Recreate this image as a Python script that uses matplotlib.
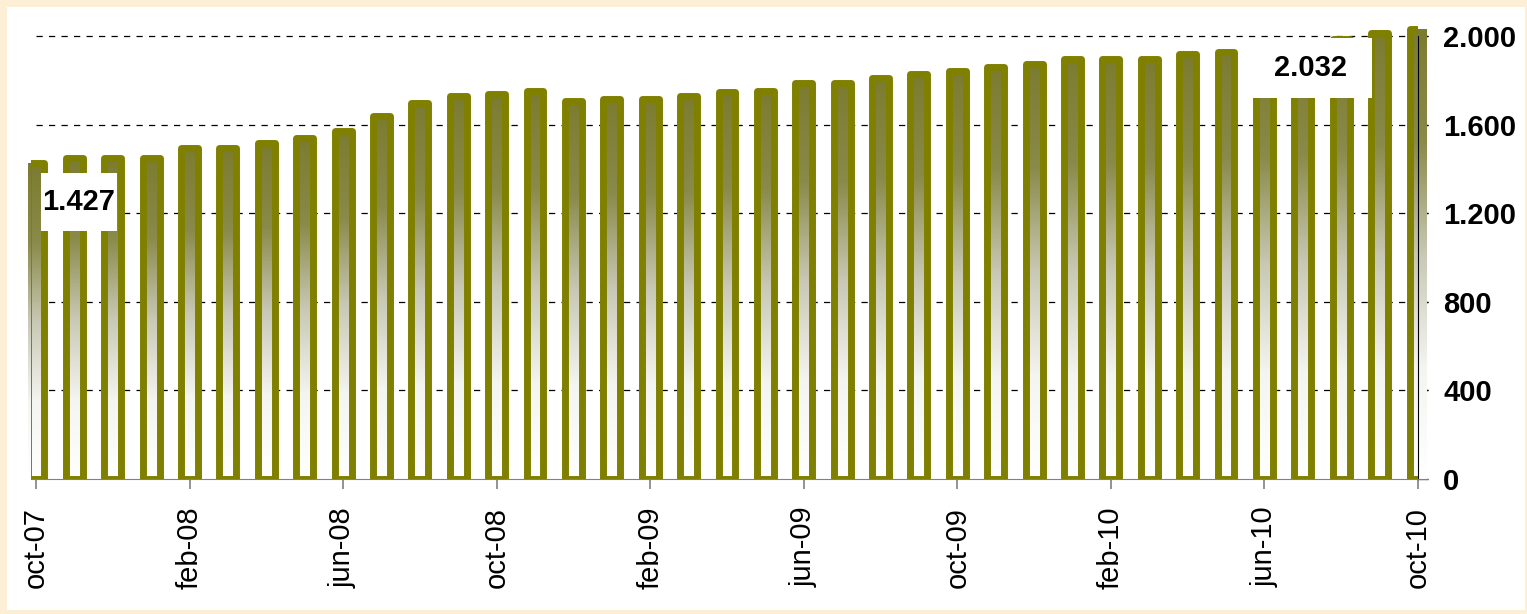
import matplotlib.pyplot as plt
import numpy as np
from matplotlib.colors import LinearSegmentedColormap
from matplotlib.patches import Rectangle
from matplotlib.path import Path
from matplotlib.ticker import FuncFormatter

plt.rcParams['font.family'] = ['Liberation Sans', 'DejaVu Sans']

months = ["oct-07", "nov-07", "dec-07", "jan-08", "feb-08", "mar-08", "apr-08", "may-08",
          "jun-08", "jul-08", "aug-08", "sep-08", "oct-08", "nov-08", "dec-08", "jan-09",
          "feb-09", "mar-09", "apr-09", "may-09", "jun-09", "jul-09", "aug-09", "sep-09",
          "oct-09", "nov-09", "dec-09", "jan-10", "feb-10", "mar-10", "apr-10", "may-10",
          "jun-10", "jul-10", "aug-10", "sep-10", "oct-10"]
values = [1427, 1450, 1450, 1450, 1495, 1495, 1517, 1540, 1572, 1640, 1700, 1730, 1740,
          1752, 1708, 1717, 1717, 1730, 1748, 1752, 1790, 1790, 1810, 1828, 1843, 1862,
          1875, 1897, 1897, 1897, 1920, 1930, 1940, 1955, 1985, 2015, 2032]
yticks = [0, 400, 800, 1200, 1600, 2000]
labelled = [0, 36]
label_pos = [(1.12, 1250), (33.2, 1855)]
label_pads = [(2, 15), (25, 16)]  # px

olive = "#808000"
grad = LinearSegmentedColormap.from_list("g", ["#ffffff", "#f4f4f0", "#c8c8b4", "#8a8a4a", "#7c7c30"])


def box(padx, pady):
    def style(x0, y0, width, height, mutation_size):
        x0, y0 = x0 - padx, y0 - pady
        x1, y1 = x0 + width + 2 * padx, y0 + height + 2 * pady
        return Path([(x0, y0), (x1, y0), (x1, y1), (x0, y1), (x0, y0)], closed=True)
    return style


fig = plt.figure(figsize=(15.27, 6.14), dpi=100)
fig.patch.set_facecolor("#fdefd6")
fig.patches.append(Rectangle((7 / 1527, 4 / 614), 1518 / 1527, 603 / 614,
                             transform=fig.transFigure, facecolor="white", edgecolor="none", zorder=-10))

ax = fig.add_axes([31 / 1527, 135 / 614, 1387 / 1527, 465 / 614])
ax.set_facecolor("none")
x = np.arange(len(values))
w = 0.44

for yv in yticks[1:]:
    ax.plot([0, 36.26], [yv, yv], color="black", lw=0.9, ls=(0, (5, 5)), zorder=1, clip_on=False)

bars = ax.bar(x, values, width=w, facecolor="none", edgecolor=olive, linewidth=5.0,
              joinstyle="round", zorder=3)
g = np.linspace(0, 1, 256).reshape(-1, 1)
for b in bars:
    im = ax.imshow(g, cmap=grad, origin="lower", aspect="auto", zorder=2,
                   extent=[b.get_x(), b.get_x() + b.get_width(), 0, b.get_height()])
    im.set_clip_path(b)
ax.set_xlim(-0.13, 36)
ax.set_ylim(0, 2100)

for i, (lx, ly), (px, py) in zip(labelled, label_pos, label_pads):
    ax.text(lx, ly, f"{values[i]:,}".replace(",", "."), ha="center", va="center",
            fontsize=21, fontweight="bold", zorder=5,
            bbox=dict(boxstyle=box(px, py), facecolor="white", edgecolor="none"))

for s in ["top", "left"]:
    ax.spines[s].set_visible(False)
ax.spines["right"].set_bounds(0, 2000)
ax.spines["right"].set_color("black")
ax.spines["bottom"].set_color("#808080")
ax.spines["bottom"].set_bounds(-0.13, 36.26)

ax.yaxis.tick_right()
ax.set_yticks(yticks)
ax.yaxis.set_major_formatter(FuncFormatter(lambda v, p: f"{int(v):,}".replace(",", ".")))
ax.tick_params(axis="y", direction="out", length=7, width=0.9, color="black", pad=11,
               labelsize=21)
for t in ax.get_yticklabels():
    t.set_fontweight("bold")

ax.set_xticks(x[::4])
ax.set_xticklabels(months[::4], rotation=90, fontsize=21)
ax.tick_params(axis="x", direction="out", length=7, width=1.2, color="#808080", pad=13)

fig.savefig("out.png", dpi=100, facecolor=fig.get_facecolor())
